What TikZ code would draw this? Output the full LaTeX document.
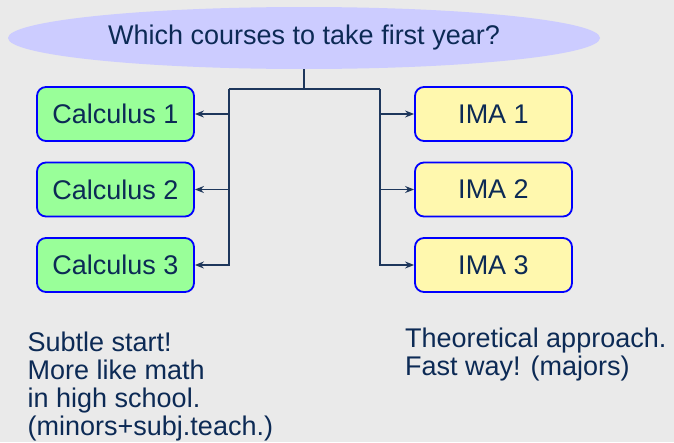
\documentclass[tikz,border=0pt]{standalone}
\usepackage{fontspec}
\setmainfont{Liberation Sans}
\usetikzlibrary{shapes.geometric,arrows.meta}
\definecolor{bg}{RGB}{234,234,234}
\definecolor{txt}{RGB}{12,42,85}
\definecolor{ln}{RGB}{30,55,92}
\definecolor{ell}{RGB}{204,204,255}
\definecolor{grn}{RGB}{153,255,153}
\definecolor{ylw}{RGB}{255,248,174}
\definecolor{brd}{RGB}{0,0,255}
\tikzset{
  course/.style={draw=brd, line width=1.8pt, rounded corners=9pt, minimum width=157pt, minimum height=54pt, inner sep=0pt, text=txt, font=\fontsize{27}{28}\selectfont},
  calc/.style={course, fill=grn},
  ima/.style={course, fill=ylw},
  conn/.style={draw=ln, line width=1.4pt},
  arr/.style={conn, -{Stealth[length=9pt,width=7pt]}},
  note/.style={text=txt, font=\fontsize{27}{27.8}\selectfont, align=left, inner sep=0pt, anchor=base west}
}
\begin{document}
\begin{tikzpicture}[x=1pt,y=-1pt]
\fill[bg] (0,0) rectangle (674,442);
\useasboundingbox (0,0) rectangle (674,442);
\node[ellipse, fill=ell, minimum width=592pt, minimum height=62pt, inner sep=0pt, text=txt, font=\fontsize{27}{28}\selectfont] (q) at (304,38) {Which courses to take first year?};
\node[calc] (c1) at (115.5,114) {Calculus 1};
\node[calc] (c2) at (115.5,189.5) {Calculus 2};
\node[calc] (c3) at (115.5,265) {Calculus 3};
\node[ima] (i1) at (493.5,114) {IMA 1};
\node[ima] (i2) at (493.5,189.5) {IMA 2};
\node[ima] (i3) at (493.5,265) {IMA 3};
\coordinate (jl) at (229,89);
\coordinate (jr) at (380,89);
\draw[conn] (q.south) -- (q.south |- jl);
\draw[conn] (jl) -- (jr);
\draw[arr] (jl) |- (c1.east);
\draw[arr] (jl) |- (c2.east);
\draw[arr] (jl) |- (c3.east);
\draw[arr] (jr) |- (i1.west);
\draw[arr] (jr) |- (i2.west);
\draw[arr] (jr) |- (i3.west);
\node[note] (nl) at (27.5,435) {Subtle start!\\More like math\\in high school.\\(minors+subj.teach.)};
\node[note] (nr) at (405,375) {Theoretical approach.\\Fast way! (majors)};
\end{tikzpicture}
\end{document}
